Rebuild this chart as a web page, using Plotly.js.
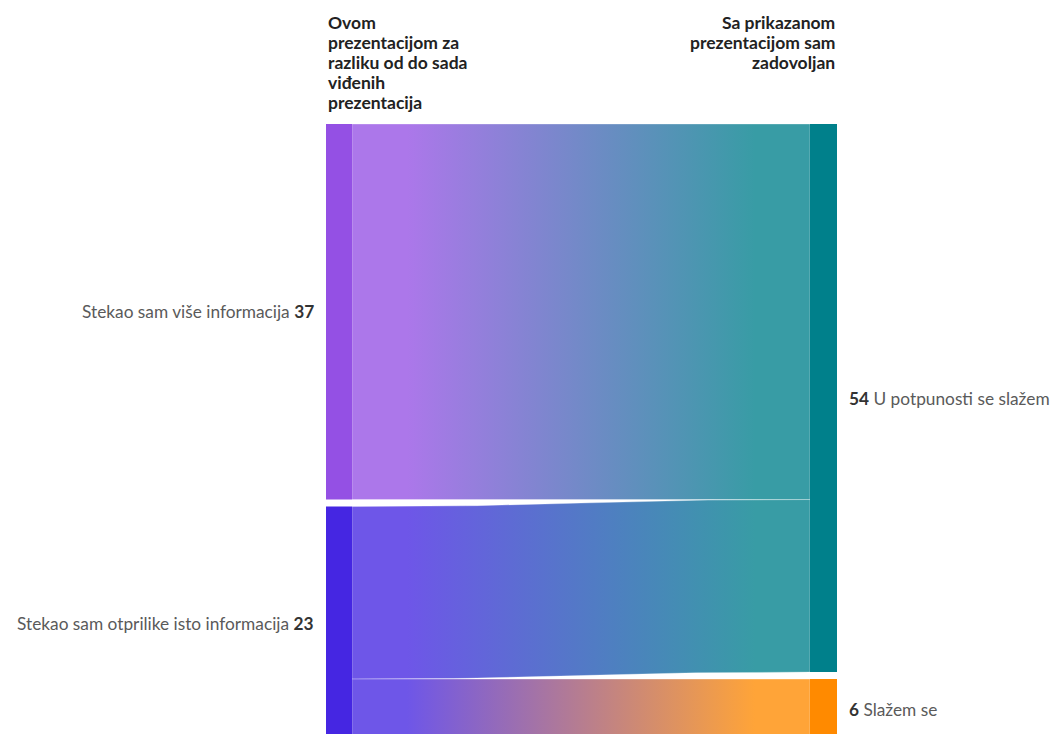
<!DOCTYPE html>
<html><head><meta charset="utf-8">
<script src="https://cdn.plot.ly/plotly-3.0.1.min.js"></script>
<style>html,body{margin:0;padding:0;background:#fff}</style>
</head><body><div id="chart" style="width:1053px;height:734px"></div>
<script>
// ---- data ----
const leftLabels = ['Stekao sam više informacija', 'Stekao sam otprilike isto informacija'];
const rightLabels = ['U potpunosti se slažem', 'Slažem se'];
const linkSource = [0, 1, 1];
const linkTarget = [0, 0, 1];
const linkValue = [37, 17, 6];
const headerLeftLines = ['Ovom', 'prezentacijom za', 'razliku od do sada', 'viđenih', 'prezentacija'];
const headerRightLines = ['Sa prikazanom', 'prezentacijom sam', 'zadovoljan'];
const leftColors = ['#9450e4', '#4526e2'];
const rightColors = ['#00808b', '#ff8a00'];

// ---- layout constants ----
const W = 1053, H = 734, TOP = 124;
const PX_PER_UNIT = 10.15, GAP_PX = 7;
const LX0 = 326, LX1 = 352, RX0 = 810, RX1 = 837;
const LINK_ALPHA = 0.78;
const FONT = 'Lato, "Open Sans", sans-serif';
const LABEL_SIZE = 17.3, HEAD_SIZE = 17.5;
const HEAD_FIRST_PX = 22.5, HEAD_STEP_PX = 20;

const gapU = GAP_PX / PX_PER_UNIT;
const yMax = (H - TOP) / PX_PER_UNIT;

function sumBy(idxArr, n) {
  const out = new Array(n).fill(0);
  idxArr.forEach((k, i) => out[k] += linkValue[i]);
  return out;
}
const leftVals = sumBy(linkSource, leftLabels.length);
const rightVals = sumBy(linkTarget, rightLabels.length);

function stack(vals) {
  const y0 = []; let c = 0;
  vals.forEach((v, i) => { y0.push(c); c += v + gapU; });
  return y0;
}
const leftY0 = stack(leftVals), rightY0 = stack(rightVals);

function blend(hex, a) {
  const n = parseInt(hex.slice(1), 16);
  const r = (n >> 16) & 255, g = (n >> 8) & 255, b = n & 255;
  const f = c => Math.round(255 - a * (255 - c));
  return 'rgb(' + f(r) + ',' + f(g) + ',' + f(b) + ')';
}

// link offsets
const srcOff = leftY0.slice(), tgtOff = rightY0.slice();
const order = linkValue.map((v, i) => i);
const linkPos = [];
order.slice().sort((a, b) => linkSource[a] - linkSource[b] || linkTarget[a] - linkTarget[b]).forEach(i => {
  linkPos[i] = linkPos[i] || {};
  linkPos[i].sy = srcOff[linkSource[i]]; srcOff[linkSource[i]] += linkValue[i];
});
order.slice().sort((a, b) => linkTarget[a] - linkTarget[b] || linkSource[a] - linkSource[b]).forEach(i => {
  linkPos[i].ty = tgtOff[linkTarget[i]]; tgtOff[linkTarget[i]] += linkValue[i];
});

function bez(x0, y0, x1, y1, steps) {
  const xm = (x0 + x1) / 2, xs = [], ys = [];
  for (let s = 0; s <= steps; s++) {
    const t = s / steps, u = 1 - t;
    xs.push(u*u*u*x0 + 3*u*u*t*xm + 3*u*t*t*xm + t*t*t*x1);
    ys.push(u*u*u*y0 + 3*u*u*t*y0 + 3*u*t*t*y1 + t*t*t*y1);
  }
  return [xs, ys];
}

const traces = [];
linkValue.forEach((v, i) => {
  const p = linkPos[i];
  const top = bez(LX1, p.sy, RX0, p.ty, 40);
  const bot = bez(RX0, p.ty + v, LX1, p.sy + v, 40);
  const c1 = blend(leftColors[linkSource[i]], LINK_ALPHA);
  const c2 = blend(rightColors[linkTarget[i]], LINK_ALPHA);
  traces.push({
    type: 'scatter', mode: 'lines', hoverinfo: 'skip',
    x: top[0].concat(bot[0], [top[0][0]]),
    y: top[1].concat(bot[1], [top[1][0]]),
    fill: 'toself',
    fillcolor: c1,
    fillgradient: {type: 'horizontal', colorscale: [[0, c1], [0.12, c1], [0.88, c2], [1, c2]]},
    line: {width: 0.6, color: 'rgba(255,255,255,0.5)'}
  });
});

function rect(x0, x1, y0, y1, color) {
  return {type: 'scatter', mode: 'lines', hoverinfo: 'skip',
    x: [x0, x1, x1, x0, x0], y: [y0, y0, y1, y1, y0],
    fill: 'toself', fillcolor: color, line: {width: 0}};
}
leftVals.forEach((v, i) => traces.push(rect(LX0, LX1, leftY0[i], leftY0[i] + v, leftColors[i])));
rightVals.forEach((v, i) => traces.push(rect(RX0, RX1, rightY0[i], rightY0[i] + v, rightColors[i])));

const annotations = [];
leftVals.forEach((v, i) => annotations.push({
  xref: 'x', yref: 'y', x: LX0 - 10, y: leftY0[i] + v / 2, xanchor: 'right', yanchor: 'middle',
  showarrow: false, text: leftLabels[i] + ' <b><span style="color:#333">' + v + '</span></b>',
  font: {family: FONT, size: LABEL_SIZE, color: '#5a5a5a'}
}));
rightVals.forEach((v, i) => annotations.push({
  xref: 'x', yref: 'y', x: RX1 + 10, y: rightY0[i] + v / 2, xanchor: 'left', yanchor: 'middle',
  showarrow: false, text: '<b><span style="color:#333">' + v + '</span></b> ' + rightLabels[i],
  font: {family: FONT, size: LABEL_SIZE, color: '#5a5a5a'}
}));
function pxToPaper(px) { return (H - px) / (H - TOP); }
headerLeftLines.forEach((t, k) => annotations.push({
  xref: 'x', yref: 'paper', x: LX0, y: pxToPaper(HEAD_FIRST_PX + k * HEAD_STEP_PX),
  xanchor: 'left', yanchor: 'middle', showarrow: false, text: '<b>' + t + '</b>',
  font: {family: FONT, size: HEAD_SIZE, color: '#222'}}));
headerRightLines.forEach((t, k) => annotations.push({
  xref: 'x', yref: 'paper', x: RX1, y: pxToPaper(HEAD_FIRST_PX + k * HEAD_STEP_PX),
  xanchor: 'right', yanchor: 'middle', showarrow: false, text: '<b>' + t + '</b>',
  font: {family: FONT, size: HEAD_SIZE, color: '#222'}}));

const axisBase = {visible: false, showgrid: false, zeroline: false, fixedrange: true};
const layout = {
  width: W, height: H, margin: {l: 0, r: 0, t: TOP, b: 0},
  paper_bgcolor: '#fff', plot_bgcolor: '#fff', showlegend: false, hovermode: false,
  xaxis: Object.assign({range: [0, W]}, axisBase),
  yaxis: Object.assign({range: [yMax, 0]}, axisBase),
  annotations: annotations
};
Plotly.newPlot('chart', traces, layout, {displayModeBar: false, staticPlot: true});
</script></body></html>
